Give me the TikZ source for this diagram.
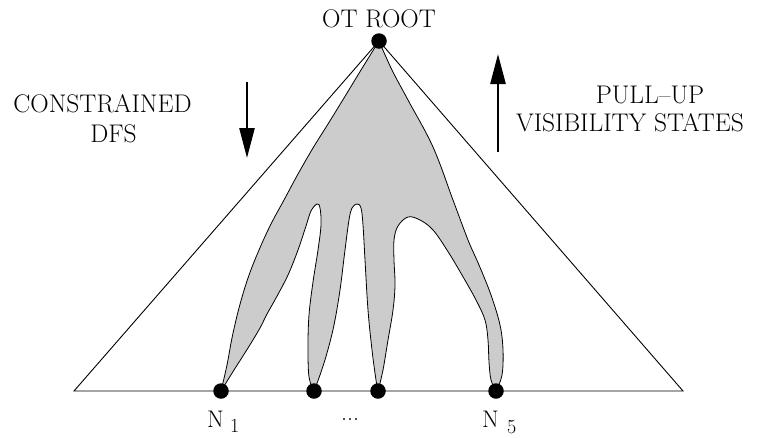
\documentclass[tikz,border=0pt]{standalone}
\usepackage{fontspec}
\usetikzlibrary{arrows.meta}
\definecolor{shade}{RGB}{204,204,204}
\begin{document}
\begin{tikzpicture}[x=1pt,y=-1pt,
  dot/.style={circle,fill=black,inner sep=0pt,minimum size=15.5pt},
  lbl/.style={font=\fontsize{25.5}{30}\selectfont,inner sep=0pt,anchor=base},
  nlbl/.style={font=\fontsize{24}{28}\selectfont,inner sep=0pt,anchor=base west},
  sublbl/.style={font=\fontsize{20}{24}\selectfont,inner sep=0pt,anchor=base west},
  edge/.style={line width=0.9pt},
  blob/.style={fill=shade,draw=black,line width=0.8pt},
  flow/.style={line width=2.6pt,-{Triangle[length=30pt,width=15pt]}}]
\useasboundingbox (0,0) rectangle (758,437);
% positions
\coordinate (pr) at (379,41);
\coordinate (p1) at (221,391);
\coordinate (p2) at (314,391);
\coordinate (p3) at (378,391);
\coordinate (p5) at (496,391);
\coordinate (bl) at (74,391);
\coordinate (br) at (683,391);
% triangle
\draw[edge] (pr) -- (bl) -- (br) -- cycle;
% grey region
\path[blob]
  plot[smooth,tension=0.6] coordinates {(379,41) (361,70) (344,98) (328,124) (313,148) (298,174) (284,200) (271,224) (259,250) (248,278) (239,308) (232,338) (227,365) (221,391)}
  -- plot[smooth,tension=0.6] coordinates {(221,391) (234,370) (248,348) (260,328) (267,314) (276,298) (288,275) (298,250) (306,226) (311,211) (317,204) (320,208) (321,225) (318,250) (313,282) (309,315) (308,347) (309,377) (314,391)}
  -- plot[smooth,tension=0.6] coordinates {(314,391) (320,375) (327,353) (334,325) (340,290) (345,250) (349,220) (352,208) (357,204) (361,208) (363,225) (365,260) (368,310) (372,350) (376,380) (378,391)}
  -- plot[smooth,tension=0.6] coordinates {(378,391) (383,370) (388,340) (393,310) (395,285) (394,260) (394,240) (398,226) (408,217) (420,220) (433,230) (447,250) (462,275) (476,300) (485,320) (488,340) (489,362) (491,380) (496,391)}
  -- plot[smooth,tension=0.6] coordinates {(496,391) (502,375) (503,350) (500,325) (491,295) (479,265) (468,240) (453,200) (433,147) (408,100) (392,70) (379,41)}
  -- cycle;
% dots
\node[dot] (root) at (pr) {};
\node[dot] (n1) at (p1) {};
\node[dot] (n2) at (p2) {};
\node[dot] (n3) at (p3) {};
\node[dot] (n5) at (p5) {};
% arrows
\coordinate (dfsTop) at (247,82);
\coordinate (dfsEnd) at (247,158);
\coordinate (pullBot) at (498,152);
\coordinate (pullEnd) at (498,54);
\draw[flow] (dfsTop) -- (dfsEnd);
\draw[flow] (pullBot) -- (pullEnd);
% labels
\node[lbl] (rootlbl) at (379,27) {OT ROOT};
\node[lbl] (cons) at (102.5,112) {CONSTRAINED};
\node[lbl] (dfs) at (113.5,142) {DFS};
\node[lbl] (pull) at (650,103) {PULL–UP};
\node[lbl] (vis) at (630,131) {VISIBILITY STATES};
\node[nlbl] (n1lbl) at (207,427) {N};
\node[sublbl] (n1sub) at (230,432) {1};
\node[nlbl] (dots) at (341,420) {...};
\node[nlbl] (n5lbl) at (482,427) {N};
\node[sublbl] (n5sub) at (507,433) {5};
\end{tikzpicture}
\end{document}
